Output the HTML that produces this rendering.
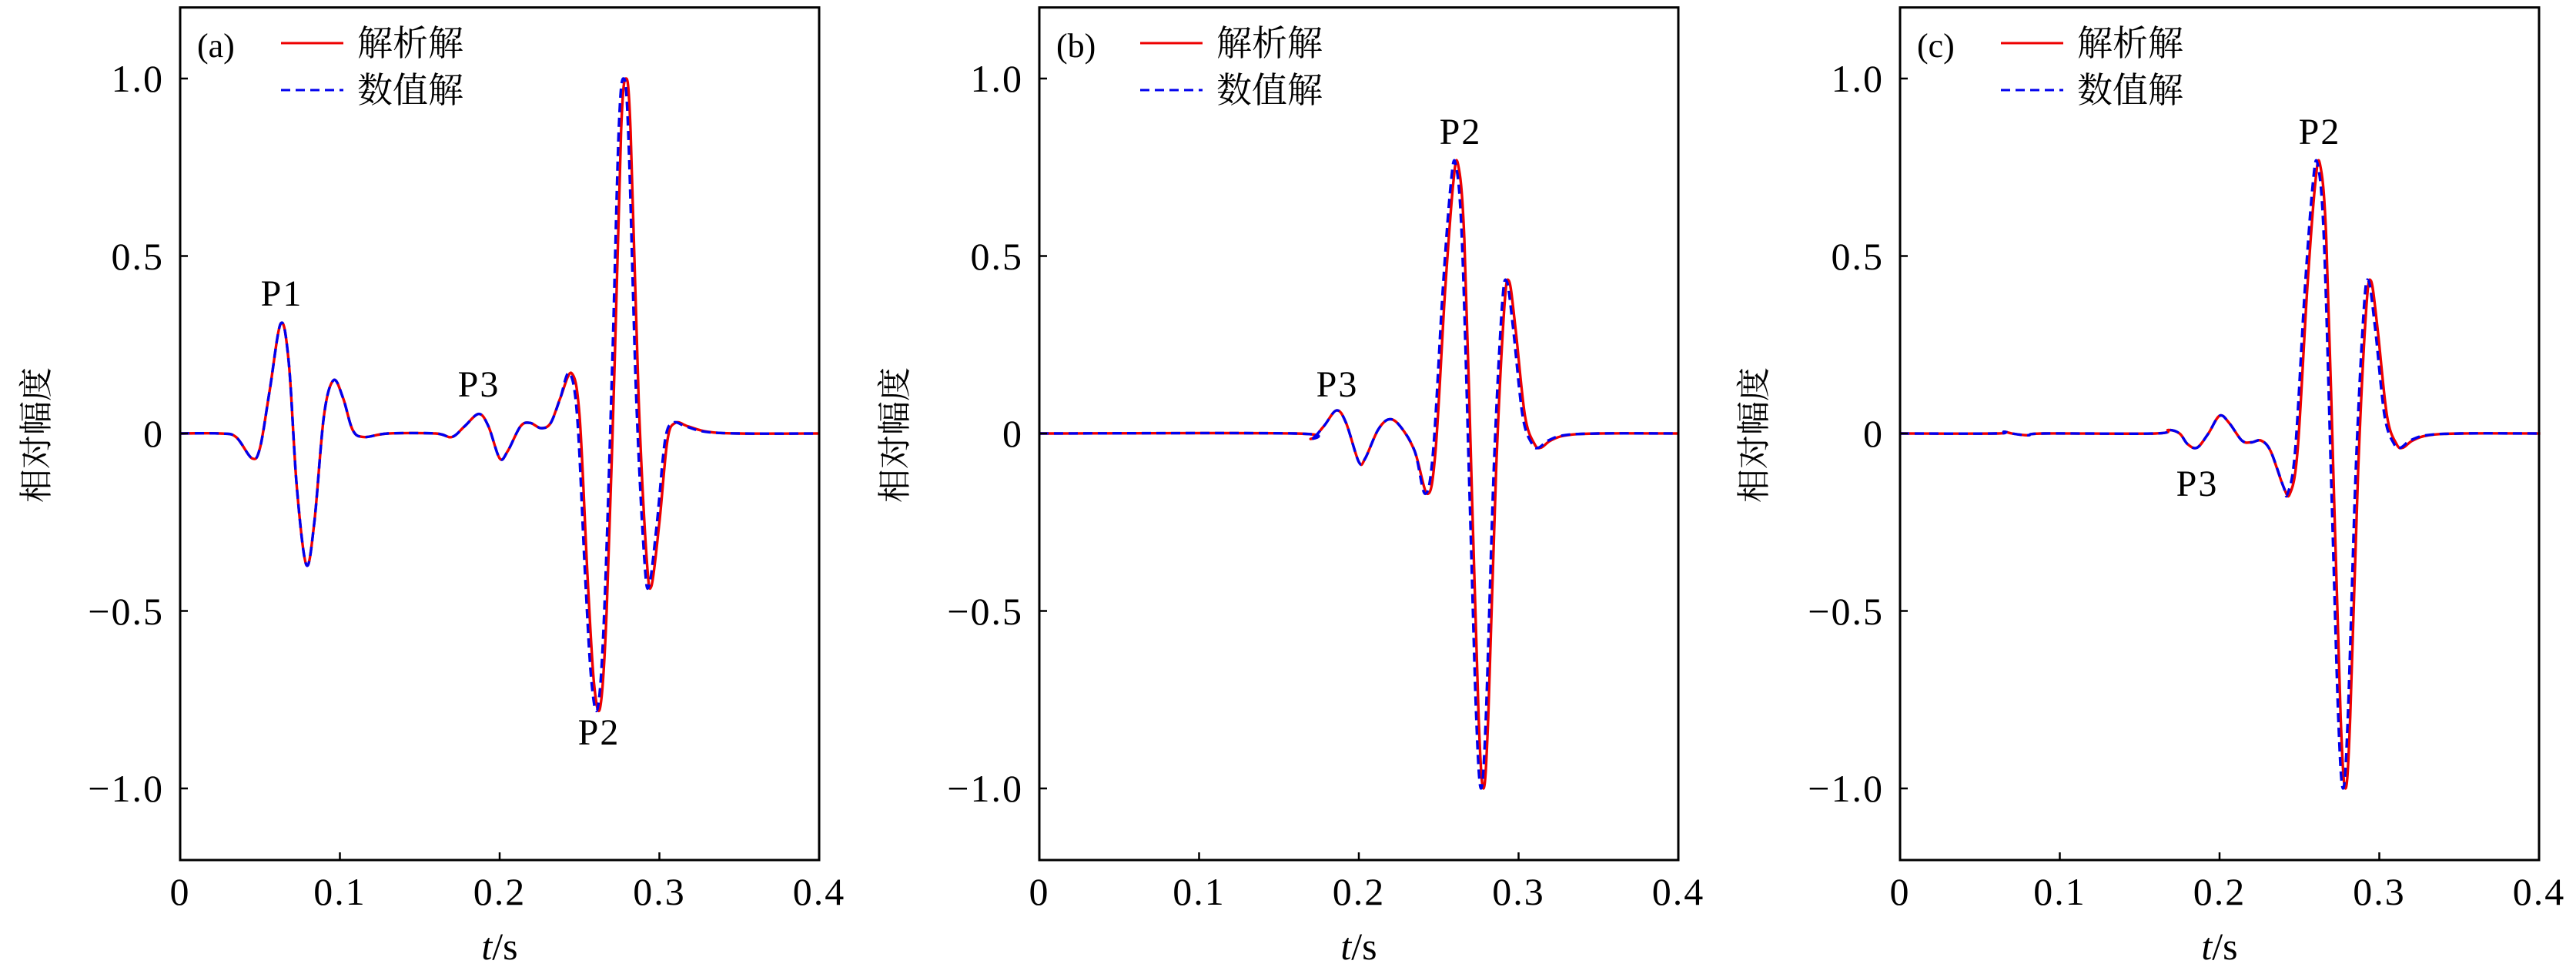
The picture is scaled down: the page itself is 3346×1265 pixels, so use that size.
<!DOCTYPE html>
<html><head><meta charset="utf-8"><style>
html,body{margin:0;padding:0;background:#fff;}
svg text{font-family:"Liberation Serif","DejaVu Serif","Noto Serif CJK SC",serif;fill:#000;}
.cjk{font-family:"Liberation Serif","Noto Serif CJK SC","Noto Sans CJK SC",serif;}
</style></head><body>
<svg id="s" width="3346" height="1260" viewBox="0 0 3346 1260" xmlns="http://www.w3.org/2000/svg">
<g id="p0"></g><g id="p1"></g><g id="p2"></g>
<g font-size="50" text-anchor="end" letter-spacing="2">
<text x="213" y="119">1.0</text>
<text x="213" y="350">0.5</text>
<text x="213" y="580">0</text>
<text x="213" y="811">−0.5</text>
<text x="213" y="1041">−1.0</text>
<text x="1329" y="119">1.0</text>
<text x="1329" y="350">0.5</text>
<text x="1329" y="580">0</text>
<text x="1329" y="811">−0.5</text>
<text x="1329" y="1041">−1.0</text>
<text x="2447" y="119">1.0</text>
<text x="2447" y="350">0.5</text>
<text x="2447" y="580">0</text>
<text x="2447" y="811">−0.5</text>
<text x="2447" y="1041">−1.0</text>
</g>
<g font-size="50" text-anchor="middle" letter-spacing="2" id="xt"></g>
<g font-size="50" text-anchor="middle">
<text x="649" y="1246"><tspan font-style="italic">t</tspan>/s</text>
<text x="1765" y="1246"><tspan font-style="italic">t</tspan>/s</text>
<text x="2883" y="1246"><tspan font-style="italic">t</tspan>/s</text>
</g>
<g font-size="44" class="cjk" text-anchor="middle">
<text transform="translate(62,565) rotate(-90)">相对幅度</text>
<text transform="translate(1177,565) rotate(-90)">相对幅度</text>
<text transform="translate(2293,565) rotate(-90)">相对幅度</text>
</g>
<g font-size="44">
<text x="256" y="74">(a)</text>
<text x="1372" y="74">(b)</text>
<text x="2490" y="74">(c)</text>
</g>
<g font-size="46" class="cjk">
<text x="464" y="72">解析解</text><text x="464" y="133">数值解</text>
<text x="1580" y="72">解析解</text><text x="1580" y="133">数值解</text>
<text x="2698" y="72">解析解</text><text x="2698" y="133">数值解</text>
</g>
<g stroke-width="3" fill="none">
<line x1="365" y1="56" x2="446" y2="56" stroke="#e00"/>
<line x1="365" y1="117" x2="446" y2="117" stroke="#00e" stroke-dasharray="12,7"/>
<line x1="1481" y1="56" x2="1562" y2="56" stroke="#e00"/>
<line x1="1481" y1="117" x2="1562" y2="117" stroke="#00e" stroke-dasharray="12,7"/>
<line x1="2599" y1="56" x2="2680" y2="56" stroke="#e00"/>
<line x1="2599" y1="117" x2="2680" y2="117" stroke="#00e" stroke-dasharray="12,7"/>
</g>
<g font-size="48" text-anchor="middle" letter-spacing="2">
<text x="366" y="397">P1</text>
<text x="622" y="515">P3</text>
<text x="778" y="967">P2</text>
<text x="1897" y="187">P2</text>
<text x="1737" y="515">P3</text>
<text x="3013" y="187">P2</text>
<text x="2854" y="644">P3</text>
</g>
</svg>
<script>
var L=[234,1350,2468],W=830,Y0=563,K=461,TOP=9.7,BOT=1117;
var A=[[0,0],[0.025,0],[0.035,-0.01],[0.045,-0.07],[0.05,-0.04],[0.056,0.12],[0.063,0.31],[0.068,0.2],[0.073,-0.15],[0.079,-0.37],[0.084,-0.25],[0.09,0.05],[0.096,0.15],[0.102,0.1],[0.108,0.01],[0.115,-0.01],[0.13,0],[0.16,0],[0.17,-0.01],[0.178,0.02],[0.187,0.055],[0.193,0.02],[0.2,-0.07],[0.205,-0.05],[0.213,0.02],[0.219,0.03],[0.226,0.015],[0.232,0.03],[0.238,0.1],[0.245,0.17],[0.25,0.05],[0.255,-0.4],[0.259,-0.7],[0.263,-0.77],[0.267,-0.5],[0.272,0.2],[0.276,0.85],[0.279,1.0],[0.282,0.85],[0.287,0.1],[0.292,-0.35],[0.295,-0.43],[0.3,-0.25],[0.305,-0.02],[0.31,0.03],[0.318,0.02],[0.33,0.005],[0.35,0],[0.4,0]];
var tail=[[0.248,-0.05],[0.254,0.4],[0.259,0.7],[0.262,0.76],[0.266,0.55],[0.271,-0.2],[0.275,-0.8],[0.278,-1.0],[0.281,-0.8],[0.286,-0.1],[0.291,0.35],[0.294,0.43],[0.298,0.3],[0.304,0.05],[0.31,-0.03],[0.314,-0.04],[0.32,-0.02],[0.33,-0.005],[0.35,0],[0.4,0]];
var B=[[0,0],[0.16,0],[0.17,-0.015],[0.178,0.02],[0.186,0.065],[0.192,0.03],[0.2,-0.08],[0.204,-0.07],[0.212,0.01],[0.219,0.04],[0.226,0.02],[0.235,-0.05],[0.243,-0.17]].concat(tail);
var C=[[0,0],[0.06,0],[0.065,0.005],[0.07,0],[0.08,-0.005],[0.09,0],[0.16,0],[0.168,0.01],[0.175,0],[0.18,-0.03],[0.186,-0.04],[0.193,0],[0.2,0.05],[0.206,0.03],[0.214,-0.02],[0.22,-0.025],[0.226,-0.02],[0.232,-0.05],[0.24,-0.15],[0.244,-0.17]].concat(tail.map(function(p){return [p[0]+0.0008,p[1]];}));
function path(pts,l,sh){
 var P=pts.map(function(p){var t=p[0];if(t>0.24&&t<0.35)t-=sh;return [l+t/0.4*W,Y0-p[1]*K];});
 var d="M"+P[0][0].toFixed(1)+","+P[0][1].toFixed(1);
 for(var i=0;i<P.length-1;i++){
  var p0=P[Math.max(i-1,0)],p1=P[i],p2=P[i+1],p3=P[Math.min(i+2,P.length-1)];
  var c1=[p1[0]+(p2[0]-p0[0])/6,p1[1]+(p2[1]-p0[1])/6],c2=[p2[0]-(p3[0]-p1[0])/6,p2[1]-(p3[1]-p1[1])/6];
  d+="C"+c1[0].toFixed(1)+","+c1[1].toFixed(1)+" "+c2[0].toFixed(1)+","+c2[1].toFixed(1)+" "+p2[0].toFixed(1)+","+p2[1].toFixed(1);
 }
 return d;
}
var D=[A,B,C],ns="http://www.w3.org/2000/svg",xt=document.getElementById("xt");
for(var k=0;k<3;k++){
 var g=document.getElementById("p"+k),l=L[k],h="";
 h+='<path d="'+path(D[k],l,0)+'" stroke="#e00" stroke-width="3.4" fill="none"/>';
 h+='<path d="'+path(D[k],l,0.0015)+'" stroke="#00e" stroke-width="3.4" fill="none" stroke-dasharray="12,7"/>';
 h+='<rect x="'+l+'" y="'+TOP+'" width="'+W+'" height="'+(BOT-TOP)+'" fill="none" stroke="#000" stroke-width="3"/>';
 [1,0.5,0,-0.5,-1].forEach(function(v){var y=Y0-v*K;h+='<line x1="'+l+'" x2="'+(l+10)+'" y1="'+y+'" y2="'+y+'" stroke="#000" stroke-width="2.5"/>';});
 for(var j=0;j<=4;j++){var x=l+j*W/4;h+='<line x1="'+x+'" x2="'+x+'" y1="'+BOT+'" y2="'+(BOT-10)+'" stroke="#000" stroke-width="2.5"/>';
  var t=document.createElementNS(ns,"text");t.setAttribute("x",x);t.setAttribute("y",1175);t.textContent=j==0?"0":"0."+j;xt.appendChild(t);}
 g.innerHTML=h;
}
</script>
</body></html>
